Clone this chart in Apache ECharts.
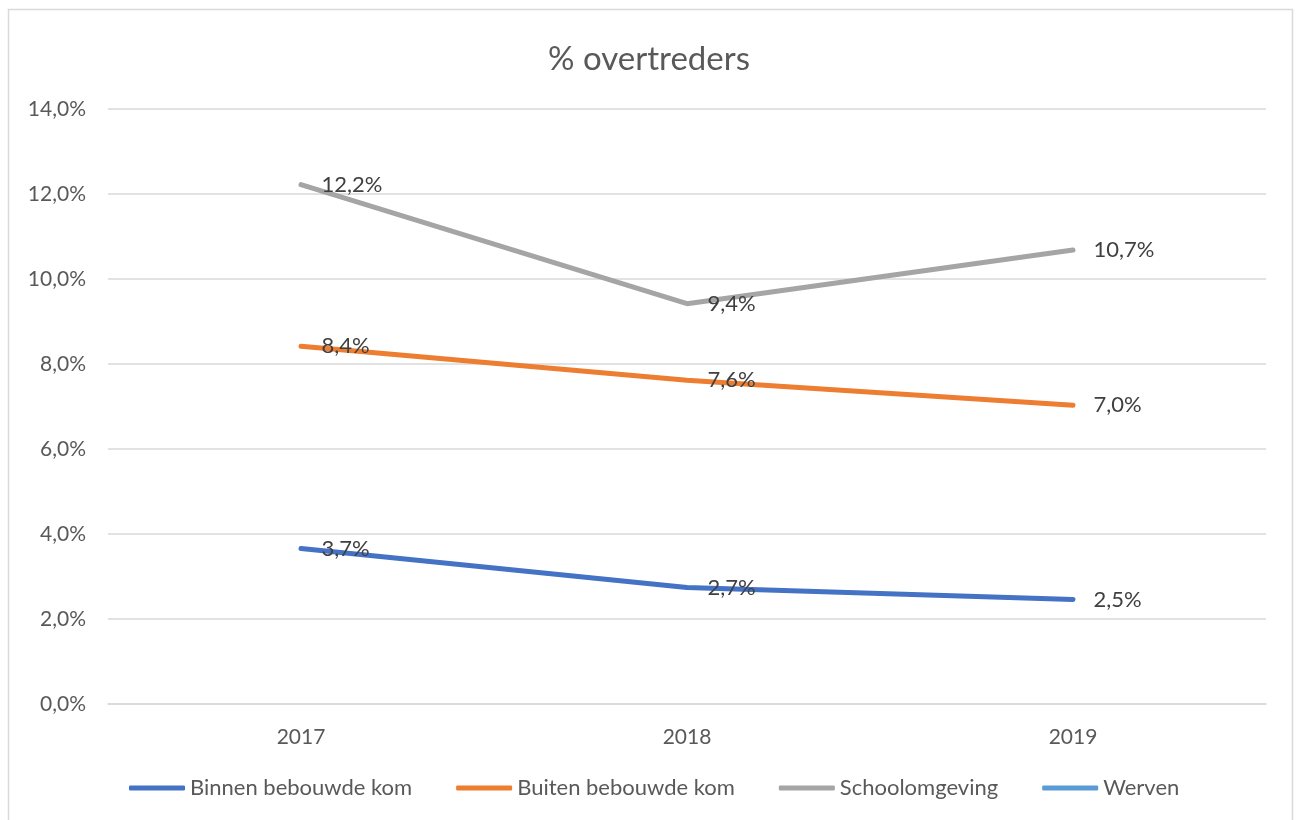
<!DOCTYPE html>
<html>
<head>
<meta charset="utf-8">
<script src="https://cdn.jsdelivr.net/npm/echarts@6/dist/echarts.min.js"></script>
<style>
  html, body { margin: 0; padding: 0; background: #fff; }
  #chart { width: 1298px; height: 820px; }
</style>
</head>
<body>
<div id="chart"></div>
<script>
// jaren en percentages
let years = ['2017', '2018', '2019']
let binnen = [3.66, 2.74, 2.46]
let buiten = [8.42, 7.62, 7.03]
let school = [12.22, 9.42, 10.68]
let werven = []
let yTicks = [0, 2, 4, 6, 8, 10, 12, 14]

let chart = echarts.init(document.getElementById('chart'))
let font = 'Lato, "Open Sans", sans-serif'

function fmt(v) {
  return v.toFixed(1).replace('.', ',') + '%'
}

function makeSeries(name, data, color) {
  return {
    name: name,
    type: 'line',
    data: data,
    symbol: 'circle',
    symbolSize: 1,
    showSymbol: true,
    lineStyle: { width: 5, color: color, cap: 'round' },
    itemStyle: { color: color },
    label: {
      show: true,
      position: 'right',
      distance: 20,
      color: '#404040',
      fontSize: 22,
      fontFamily: font,
      formatter: p => fmt(p.value)
    },
    emphasis: { disabled: true },
    z: 3
  }
}

chart.setOption({
  animation: false,
  title: {
    text: '% overtreders',
    left: 'center',
    top: 38,
    textStyle: { color: '#595959', fontSize: 33, fontWeight: 'normal', fontFamily: font }
  },
  graphic: [{
    type: 'rect',
    shape: { x: 8.5, y: 9.5, width: 1284, height: 840 },
    style: { fill: 'none', stroke: '#d9d9d9', lineWidth: 1.5 },
    silent: true
  }],
  legend: {
    bottom: 16,
    left: 124,
    itemGap: 44,
    itemWidth: 56,
    itemHeight: 5,
    icon: 'roundRect',
    textStyle: { color: '#595959', fontSize: 22, fontFamily: font },
    data: ['Binnen bebouwde kom', 'Buiten bebouwde kom', 'Schoolomgeving', 'Werven']
  },
  grid: { left: 108, right: 32, top: 109, bottom: 116 },
  xAxis: {
    type: 'category',
    data: years,
    axisLine: { lineStyle: { color: '#d9d9d9', width: 1.5 } },
    axisTick: { show: false },
    axisLabel: { color: '#595959', fontSize: 21, fontFamily: font, margin: 23 }
  },
  yAxis: {
    type: 'value',
    min: yTicks[0],
    max: yTicks[yTicks.length - 1],
    interval: 2,
    axisLine: { show: false },
    axisTick: { show: false },
    splitLine: { lineStyle: { color: '#d9d9d9', width: 1.5 } },
    axisLabel: { color: '#595959', fontSize: 21, fontFamily: font, margin: 22, formatter: v => fmt(v) }
  },
  series: [
    makeSeries('Binnen bebouwde kom', binnen, '#4472C4'),
    makeSeries('Buiten bebouwde kom', buiten, '#ED7D31'),
    makeSeries('Schoolomgeving', school, '#A5A5A5'),
    makeSeries('Werven', werven, '#5B9BD5')
  ]
})
</script>
</body>
</html>
